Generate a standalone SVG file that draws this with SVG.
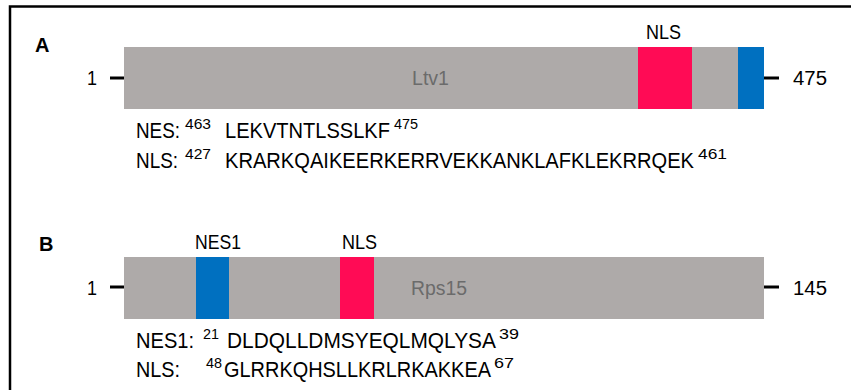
<svg xmlns="http://www.w3.org/2000/svg" width="857" height="390" viewBox="0 0 857 390">
  <style>
    text { font-family: "Liberation Sans", Arial, sans-serif; fill: #000; }
    .seq { font-size: 21.5px; }
    .sup { font-size: 15px; }
    .num { font-size: 20.5px; }
    .lbl { font-size: 19.5px; }
    .name { font-size: 19.5px; fill: #6b6b6b; }
    .panel { font-size: 20px; font-weight: bold; }
    .bar { fill: #aeaaa9; }
    .nls { fill: #ff0b55; }
    .nes { fill: #0070c0; }
    .tick { stroke: #000; stroke-width: 3; }
    .frame { stroke: #000; stroke-width: 2.5; fill: none; }
  </style>

  <!-- outer frame: top and left edges only -->
  <path class="frame" d="M10,390 V6.5 H851"/>

  <!-- Panel A: Ltv1 -->
  <g id="panelA">
    <text class="panel" x="35" y="52">A</text>
    <g id="ltv1">
      <rect class="bar" x="124" y="47" width="640" height="62"/>
      <rect class="nls" x="638" y="47" width="54" height="62"/>
      <rect class="nes" x="738" y="47" width="26" height="62"/>
      <text class="name" x="412" y="85" textLength="37" lengthAdjust="spacingAndGlyphs">Ltv1</text>
      <text class="lbl" x="646" y="39" textLength="35" lengthAdjust="spacingAndGlyphs">NLS</text>
    </g>
    <g id="ltv1-ends">
      <line class="tick" x1="110" y1="78" x2="124" y2="78"/>
      <line class="tick" x1="764" y1="78" x2="779" y2="78"/>
      <text class="num" x="87" y="85" textLength="10" lengthAdjust="spacingAndGlyphs">1</text>
      <text class="num" x="793" y="85" textLength="34" lengthAdjust="spacingAndGlyphs">475</text>
    </g>
    <g id="ltv1-seqs">
      <!-- each line is one text run; superscript positions via tspan -->
      <text class="seq"><tspan x="136" y="138" textLength="44" lengthAdjust="spacingAndGlyphs">NES:</tspan><tspan class="sup" x="185" y="129" textLength="26" lengthAdjust="spacingAndGlyphs">463</tspan><tspan x="225" y="138" textLength="165" lengthAdjust="spacingAndGlyphs">LEKVTNTLSSLKF</tspan><tspan class="sup" x="394" y="129" textLength="24" lengthAdjust="spacingAndGlyphs">475</tspan></text>

      <text class="seq"><tspan x="136" y="168" textLength="42" lengthAdjust="spacingAndGlyphs">NLS:</tspan><tspan class="sup" x="185" y="159" textLength="26" lengthAdjust="spacingAndGlyphs">427</tspan><tspan x="225" y="168" textLength="469" lengthAdjust="spacingAndGlyphs">KRARKQAIKEERKERRVEKKANKLAFKLEKRRQEK</tspan><tspan class="sup" x="698" y="159" textLength="29" lengthAdjust="spacingAndGlyphs">461</tspan></text>
    </g>
  </g>

  <!-- Panel B: Rps15 -->
  <g id="panelB">
    <text class="panel" x="39" y="251">B</text>
    <g id="rps15">
      <rect class="bar" x="124" y="257" width="640" height="62"/>
      <rect class="nes" x="196" y="257" width="33" height="62"/>
      <rect class="nls" x="340" y="257" width="34" height="62"/>
      <text class="name" x="411" y="295" textLength="56" lengthAdjust="spacingAndGlyphs">Rps15</text>
      <text class="lbl" x="195" y="249" textLength="46" lengthAdjust="spacingAndGlyphs">NES1</text>
      <text class="lbl" x="342" y="249" textLength="35" lengthAdjust="spacingAndGlyphs">NLS</text>
    </g>
    <g id="rps15-ends">
      <line class="tick" x1="110" y1="287" x2="124" y2="287"/>
      <line class="tick" x1="764" y1="287" x2="779" y2="287"/>
      <text class="num" x="87" y="295" textLength="10" lengthAdjust="spacingAndGlyphs">1</text>
      <text class="num" x="793" y="295" textLength="34" lengthAdjust="spacingAndGlyphs">145</text>
    </g>
    <g id="rps15-seqs">
      <text class="seq"><tspan x="136" y="348" textLength="58" lengthAdjust="spacingAndGlyphs">NES1:</tspan><tspan class="sup" x="203" y="339" textLength="16" lengthAdjust="spacingAndGlyphs">21</tspan><tspan x="227" y="348" textLength="269" lengthAdjust="spacingAndGlyphs">DLDQLLDMSYEQLMQLYSA</tspan><tspan class="sup" x="499" y="339" textLength="20" lengthAdjust="spacingAndGlyphs">39</tspan></text>

      <text class="seq"><tspan x="136" y="377" textLength="44" lengthAdjust="spacingAndGlyphs">NLS:</tspan><tspan class="sup" x="206" y="368" textLength="16" lengthAdjust="spacingAndGlyphs">48</tspan><tspan x="224" y="377" textLength="267" lengthAdjust="spacingAndGlyphs">GLRRKQHSLLKRLRKAKKEA</tspan><tspan class="sup" x="494" y="368" textLength="20" lengthAdjust="spacingAndGlyphs">67</tspan></text>
    </g>
  </g>
</svg>
